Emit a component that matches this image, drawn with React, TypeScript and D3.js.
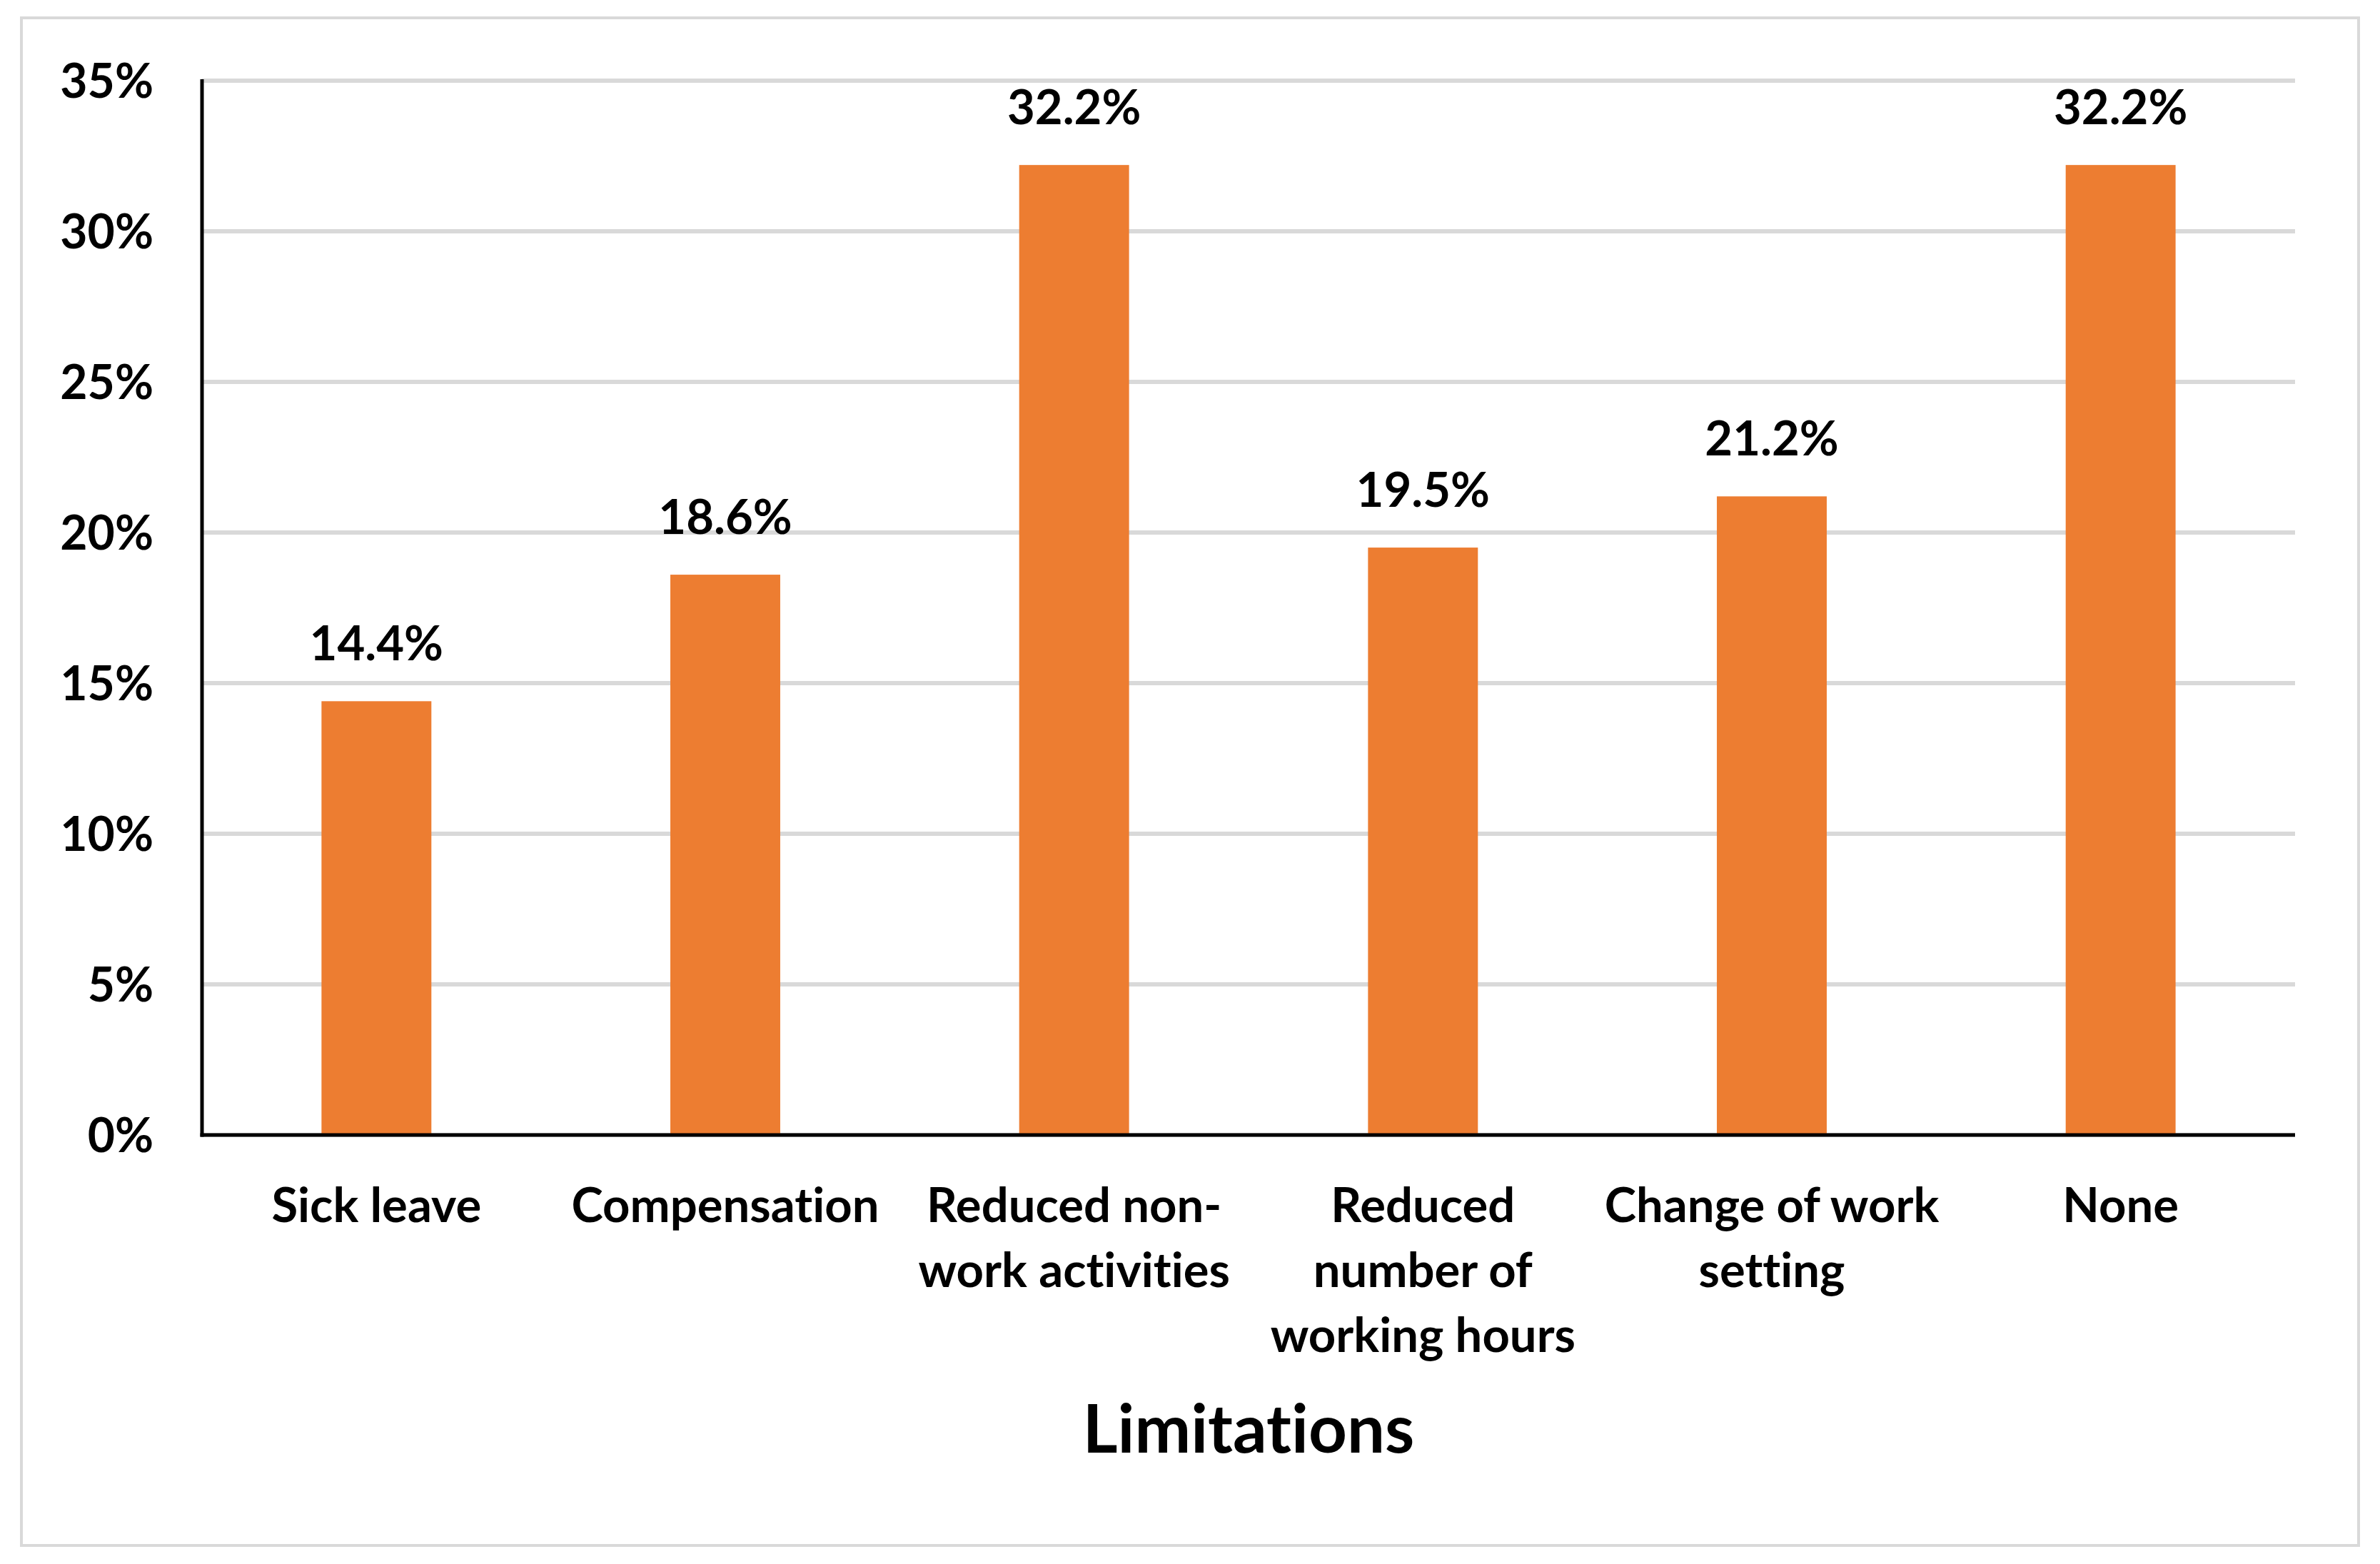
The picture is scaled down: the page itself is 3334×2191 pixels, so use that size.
import React, { useEffect } from 'react';
import * as d3 from 'd3';

const categories = [
  'Sick leave',
  'Compensation',
  'Reduced non-work activities',
  'Reduced number of working hours',
  'Change of work setting',
  'None',
];
// how the category names break onto lines under the axis
const categoryLines = [
  ['Sick leave'],
  ['Compensation'],
  ['Reduced non-', 'work activities'],
  ['Reduced', 'number of', 'working hours'],
  ['Change of work', 'setting'],
  ['None'],
];
const values = [14.4, 18.6, 32.2, 19.5, 21.2, 32.2];
const yTicks = [0, 5, 10, 15, 20, 25, 30, 35];
const xTitle = 'Limitations';

const W = 3334;
const H = 2191;
const margin = { top: 113, right: 119, bottom: 601, left: 283 };
const FONT = 'Lato, "Open Sans", sans-serif';

const App: React.FC = () => {
  useEffect(() => {
    document.body.style.margin = '0';
  }, []);

  const x = d3
    .scaleBand<string>()
    .domain(categories)
    .range([margin.left, W - margin.right])
    .paddingInner(0.685)
    .paddingOuter(0.3425);

  const y = d3
    .scaleLinear()
    .domain([0, 35])
    .range([H - margin.bottom, margin.top]);

  const fmt = (v: number) => `${v}%`;

  return (
    <svg
      width={W}
      height={H}
      style={{ display: 'block', background: '#fff', fontVariantLigatures: 'none', fontFeatureSettings: '"liga" 0, "clig" 0' }}
    >
      {/* outer frame */}
      <rect x={30} y={25} width={3274} height={2140} fill="#fff" stroke="#d9d9d9" strokeWidth={4} />

      {/* gridlines */}
      {yTicks.map((t) => (
        <line
          key={'g' + t}
          x1={margin.left}
          x2={W - margin.right}
          y1={y(t)}
          y2={y(t)}
          stroke="#d9d9d9"
          strokeWidth={6}
        />
      ))}

      {/* y tick labels */}
      {yTicks.map((t) => (
        <text
          key={'t' + t}
          x={215}
          y={y(t)}
          dy="0.36em"
          textAnchor="end"
          fontFamily={FONT}
          fontWeight={700}
          fontSize={66}
          fill="#000"
        >
          {fmt(t)}
        </text>
      ))}

      {/* bars */}
      {categories.map((c, i) => (
        <rect
          key={'b' + c}
          x={x(c)}
          y={y(values[i])}
          width={x.bandwidth()}
          height={y(0) - y(values[i])}
          fill="#ED7D31"
        />
      ))}

      {/* value labels */}
      {categories.map((c, i) => (
        <text
          key={'v' + c}
          x={(x(c) ?? 0) + x.bandwidth() / 2}
          y={y(values[i]) - 57}
          textAnchor="middle"
          fontFamily={FONT}
          fontWeight={700}
          fontSize={67}
          fill="#000"
        >
          {values[i].toFixed(1)}%
        </text>
      ))}

      {/* axes */}
      <line x1={margin.left} x2={margin.left} y1={y(35) - 2} y2={y(0) + 2.5} stroke="#000" strokeWidth={5} />
      <line x1={margin.left - 2.5} x2={W - margin.right} y1={y(0)} y2={y(0)} stroke="#000" strokeWidth={5} />

      {/* category labels */}
      {categories.map((c, i) => (
        <text
          key={'c' + c}
          textAnchor="middle"
          fontFamily={FONT}
          fontWeight={700}
          fontSize={67}
          fill="#000"
        >
          {categoryLines[i].map((line, j) => (
            <tspan key={j} x={(x(c) ?? 0) + x.bandwidth() / 2} y={y(0) + 122 + j * 91}>
              {line}
            </tspan>
          ))}
        </text>
      ))}

      {/* x axis title */}
      <text
        x={(margin.left + W - margin.right) / 2}
        y={2035}
        textAnchor="middle"
        fontFamily={FONT}
        fontWeight={700}
        fontSize={94}
        fill="#000"
      >
        {xTitle}
      </text>
    </svg>
  );
};

export default App;
